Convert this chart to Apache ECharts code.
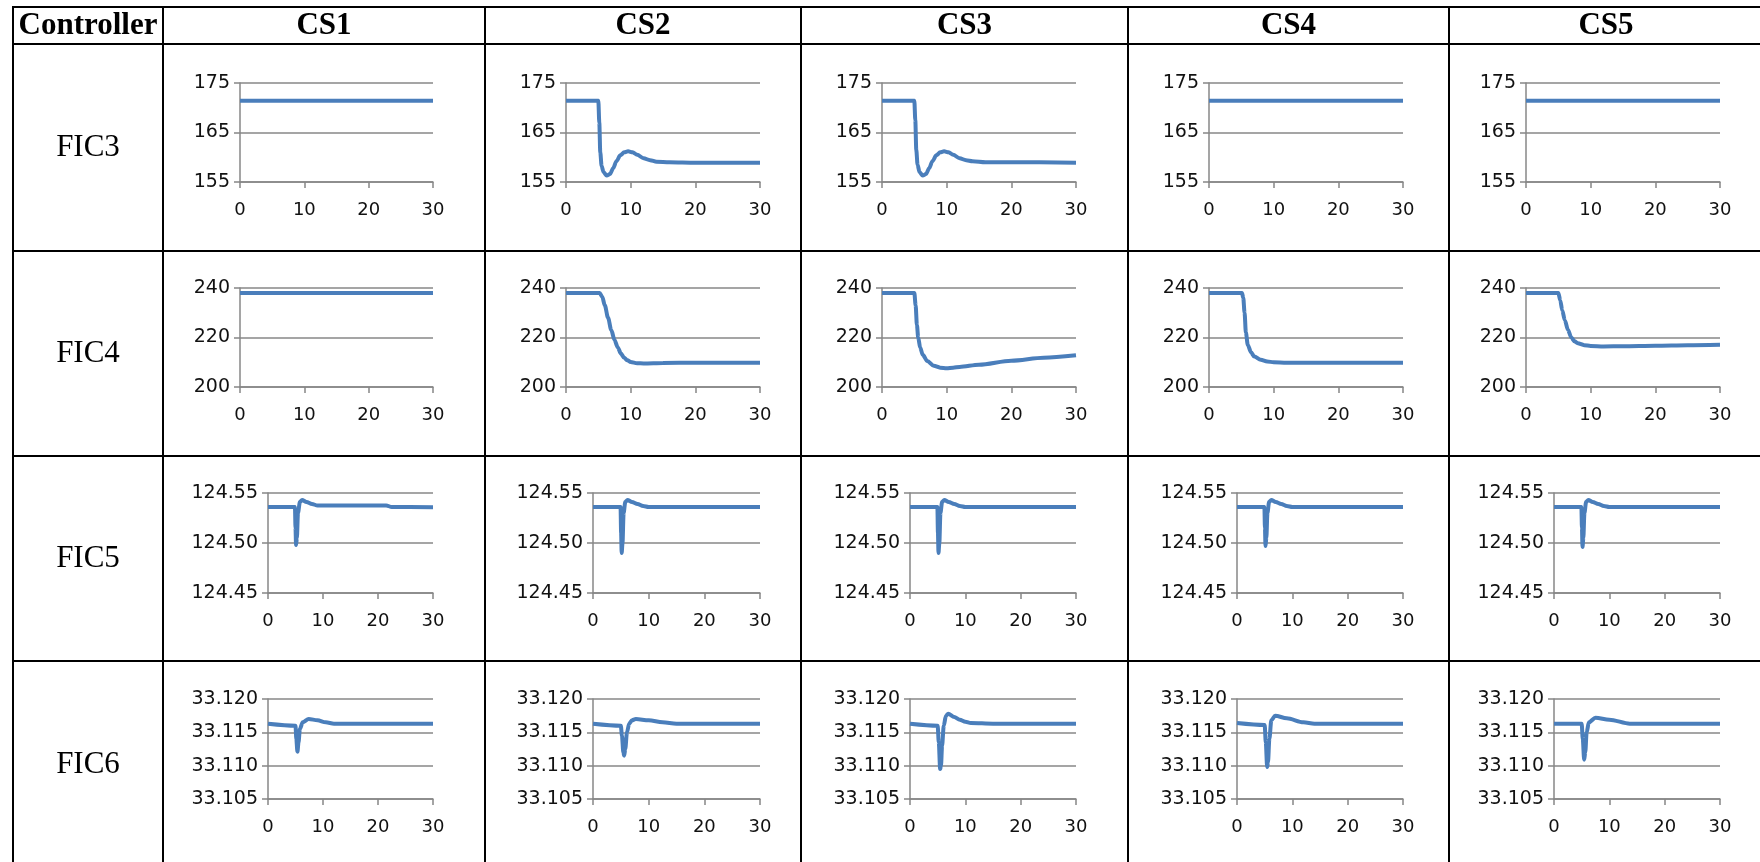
<!DOCTYPE html>
<html><head><meta charset="utf-8">
<script src="https://cdn.jsdelivr.net/npm/echarts@6/dist/echarts.min.js"></script>
<style>html,body{margin:0;padding:0;background:#fff;overflow:hidden}#c{width:1760px;height:862px}</style>
</head><body><div id="c"></div>
<script>
// ---------- DATA ----------
const controllers = ['FIC3', 'FIC4', 'FIC5', 'FIC6'];
const cases = ['CS1', 'CS2', 'CS3', 'CS4', 'CS5'];
const headerLabel = 'Controller';
const xTicks = [0, 10, 20, 30];
const yTicksFIC3 = [155, 165, 175];
const yTicksFIC4 = [200, 220, 240];
const yTicksFIC5 = [124.45, 124.50, 124.55];
const yTicksFIC6 = [33.105, 33.110, 33.115, 33.120];
const yDecimals = [0, 0, 2, 3];

// [time, value]
const FIC3_CS1 = [[0,171.4],[30,171.4]];
const FIC3_CS2 = [[0,171.4],[5,171.4],[5.15,167],[5.3,161],[5.5,158.3],[5.8,157],[6.3,156.3],[6.8,156.6],[7.3,157.8],[7.8,159.2],[8.4,160.4],[9,161],[9.6,161.2],[10.3,161],[11,160.5],[12,159.8],[13,159.4],[14,159.1],[16,159],[20,158.9],[30,158.9]];
const FIC3_CS3 = [[0,171.4],[5,171.4],[5.15,167.5],[5.3,161.5],[5.5,158.5],[5.8,157],[6.3,156.3],[6.8,156.6],[7.3,157.8],[7.8,159.2],[8.4,160.4],[9,161],[9.6,161.2],[10.3,161],[11,160.5],[12,159.8],[13,159.4],[14,159.2],[16,159],[20,159],[30,158.9]];
const FIC3_CS4 = [[0,171.4],[30,171.4]];
const FIC3_CS5 = [[0,171.4],[30,171.4]];

const FIC4_CS1 = [[0,238],[30,238]];
const FIC4_CS2 = [[0,238],[5.2,238],[5.6,236.5],[6,233],[6.5,228],[7,223],[7.5,219],[8,216],[8.5,213.5],[9,211.8],[9.5,210.8],[10,210.1],[11,209.6],[12,209.5],[15,209.7],[20,209.8],[30,209.8]];
const FIC4_CS3 = [[0,238],[5,238],[5.2,233],[5.4,225],[5.6,220],[5.9,216],[6.3,213],[7,210.5],[8,208.6],[9,207.8],[10,207.6],[11,207.8],[12,208.1],[15,209],[20,210.6],[25,211.8],[30,212.8]];
const FIC4_CS4 = [[0,238],[5.1,238],[5.3,236],[5.5,230],[5.7,222],[6,217],[6.5,214],[7,212.3],[8,211],[9,210.3],[10,210],[12,209.8],[30,209.8]];
const FIC4_CS5 = [[0,238],[5,238],[5.3,235],[5.6,231],[6,227],[6.5,223],[7,220],[7.5,218.5],[8,217.7],[9,216.9],[10,216.6],[12,216.4],[15,216.5],[20,216.7],[25,216.9],[30,217.1]];

const FIC5_CS1 = [[0,124.536],[4.9,124.536],[5.0,124.515],[5.1,124.498],[5.25,124.505],[5.45,124.53],[5.8,124.541],[6.2,124.543],[7,124.541],[8,124.539],[9,124.5375],[21.5,124.5375],[22.5,124.536],[30,124.5358]];
const FIC5_CS2 = [[0,124.536],[4.95,124.536],[5.05,124.51],[5.15,124.49],[5.3,124.50],[5.5,124.53],[5.8,124.541],[6.2,124.543],[7,124.541],[8,124.539],[9,124.537],[10,124.536],[30,124.536]];
const FIC5_CS3 = [[0,124.536],[4.95,124.536],[5.05,124.51],[5.15,124.49],[5.3,124.50],[5.5,124.53],[5.8,124.541],[6.2,124.543],[7,124.541],[8,124.539],[9,124.537],[10,124.536],[30,124.536]];
const FIC5_CS4 = [[0,124.536],[4.95,124.536],[5.05,124.515],[5.15,124.497],[5.3,124.505],[5.5,124.53],[5.8,124.541],[6.2,124.543],[7,124.541],[8,124.539],[9,124.537],[10,124.536],[30,124.536]];
const FIC5_CS5 = [[0,124.536],[4.95,124.536],[5.05,124.515],[5.15,124.496],[5.3,124.505],[5.5,124.53],[5.8,124.541],[6.2,124.543],[7,124.541],[8,124.539],[9,124.537],[10,124.536],[30,124.536]];

const FIC6_CS1 = [[0,33.1163],[5,33.1160],[5.15,33.1140],[5.35,33.1121],[5.55,33.1135],[5.8,33.1155],[6.3,33.1165],[7.4,33.1170],[9,33.1168],[10.5,33.1165],[12,33.1163],[30,33.1163]];
const FIC6_CS2 = [[0,33.1163],[5,33.1160],[5.2,33.1145],[5.45,33.1120],[5.6,33.1115],[5.8,33.1125],[6.1,33.1150],[6.5,33.1163],[7,33.1168],[7.7,33.1170],[10,33.1168],[12.5,33.1165],[15,33.1163],[30,33.1163]];
const FIC6_CS3 = [[0,33.1163],[5,33.1160],[5.2,33.1135],[5.45,33.1095],[5.6,33.1100],[5.8,33.1130],[6.1,33.1160],[6.5,33.1175],[6.9,33.1178],[8,33.1173],[9,33.1169],[10,33.1166],[11,33.1164],[15,33.1163],[30,33.1163]];
const FIC6_CS4 = [[0,33.1164],[5,33.1161],[5.2,33.1135],[5.45,33.1098],[5.6,33.1105],[5.85,33.1140],[6.2,33.1168],[6.9,33.1175],[9,33.1171],[12,33.1165],[14,33.1163],[30,33.1163]];
const FIC6_CS5 = [[0,33.1163],[5,33.1163],[5.2,33.1140],[5.45,33.1109],[5.65,33.1120],[5.9,33.1150],[6.3,33.1165],[7.5,33.1172],[10,33.1169],[13.7,33.1163],[30,33.1163]];

const seriesData = [
  [FIC3_CS1, FIC3_CS2, FIC3_CS3, FIC3_CS4, FIC3_CS5],
  [FIC4_CS1, FIC4_CS2, FIC4_CS3, FIC4_CS4, FIC4_CS5],
  [FIC5_CS1, FIC5_CS2, FIC5_CS3, FIC5_CS4, FIC5_CS5],
  [FIC6_CS1, FIC6_CS2, FIC6_CS3, FIC6_CS4, FIC6_CS5]
];
const yTicks = [yTicksFIC3, yTicksFIC4, yTicksFIC5, yTicksFIC6];

// ---------- LAYOUT ----------
const tableX = [13, 163, 485, 801, 1128, 1449, 1763];
const tableY = [7, 44, 251, 456, 661];
const rowCenters = [147.5, 353.5, 558.5, 765];
const plotTop = [83, 288, 493, 699];
const plotH = [99, 99, 100, 100];
const plotLeftWide = [240, 566, 882, 1209, 1526];
const plotLeftNarrow = [268, 593, 910, 1237, 1554];
const plotRight = [433, 760, 1076, 1403, 1720];

const gray = '#878787';
const lineBlue = '#4A7EBB';
const tickFont = 'DejaVu Sans';

const grids = [], xAxes = [], yAxes = [], series = [];
controllers.forEach((ctl, r) => {
  cases.forEach((cs, c) => {
    const idx = grids.length;
    const left = (r < 2 ? plotLeftWide : plotLeftNarrow)[c];
    grids.push({left: left, top: plotTop[r], width: plotRight[c] - left, height: plotH[r], containLabel: false});
    xAxes.push({
      type: 'value', gridIndex: idx, min: xTicks[0], max: xTicks[xTicks.length - 1],
      interval: xTicks[1] - xTicks[0],
      axisLine: {show: true, onZero: false, lineStyle: {color: gray, width: 1.5}},
      axisTick: {show: true, length: 6, lineStyle: {color: gray, width: 1.5}},
      axisLabel: {color: '#111', fontFamily: tickFont, fontSize: 18, margin: 19},
      splitLine: {show: false}
    });
    const yt = yTicks[r];
    const dec = yDecimals[r];
    yAxes.push({
      type: 'value', gridIndex: idx, min: yt[0], max: yt[yt.length - 1],
      interval: +(yt[1] - yt[0]).toFixed(6),
      axisLine: {show: true, lineStyle: {color: gray, width: 1.5}},
      axisTick: {show: true, length: 6, lineStyle: {color: gray, width: 1.5}},
      axisLabel: {color: '#111', fontFamily: tickFont, fontSize: 19, margin: 10,
        formatter: v => Number(v).toFixed(dec)},
      splitLine: {show: true, lineStyle: {color: gray, width: 1.5}}
    });
    series.push({
      type: 'line', name: ctl + ' ' + cs, xAxisIndex: idx, yAxisIndex: idx,
      data: seriesData[r][c], showSymbol: false, symbol: 'none',
      smooth: 0.3, smoothMonotone: 'x',
      lineStyle: {color: lineBlue, width: 4}, clip: false, animation: false
    });
  });
});

// table graphics
const graphics = [];
const bw = 2;
tableY.forEach(y => graphics.push({type: 'line', shape: {x1: tableX[0] - 1, y1: y, x2: tableX[tableX.length - 1], y2: y}, style: {stroke: '#000', lineWidth: bw}, silent: true}));
tableX.forEach(x => graphics.push({type: 'line', shape: {x1: x, y1: tableY[0] - 1, x2: x, y2: 862}, style: {stroke: '#000', lineWidth: bw}, silent: true}));
const headerCy = 26;
graphics.push({type: 'text', style: {text: headerLabel, x: (tableX[0] + tableX[1]) / 2, y: headerCy, align: 'center', verticalAlign: 'middle', textAlign: 'center', textVerticalAlign: 'middle', font: 'bold 31px "Liberation Serif"', fill: '#000'}});
cases.forEach((cs, c) => graphics.push({type: 'text', style: {text: cs, x: (tableX[c + 1] + tableX[c + 2]) / 2, y: headerCy, align: 'center', verticalAlign: 'middle', textAlign: 'center', textVerticalAlign: 'middle', font: 'bold 31px "Liberation Serif"', fill: '#000'}}));
controllers.forEach((ctl, r) => graphics.push({type: 'text', style: {text: ctl, x: (tableX[0] + tableX[1]) / 2, y: rowCenters[r], align: 'center', verticalAlign: 'middle', textAlign: 'center', textVerticalAlign: 'middle', font: '31px "Liberation Serif"', fill: '#000'}}));

const chart = echarts.init(document.getElementById('c'), null, {renderer: 'canvas'});
chart.setOption({
  animation: false,
  backgroundColor: '#fff',
  grid: grids, xAxis: xAxes, yAxis: yAxes, series: series,
  graphic: {elements: graphics}
});
</script></body></html>
